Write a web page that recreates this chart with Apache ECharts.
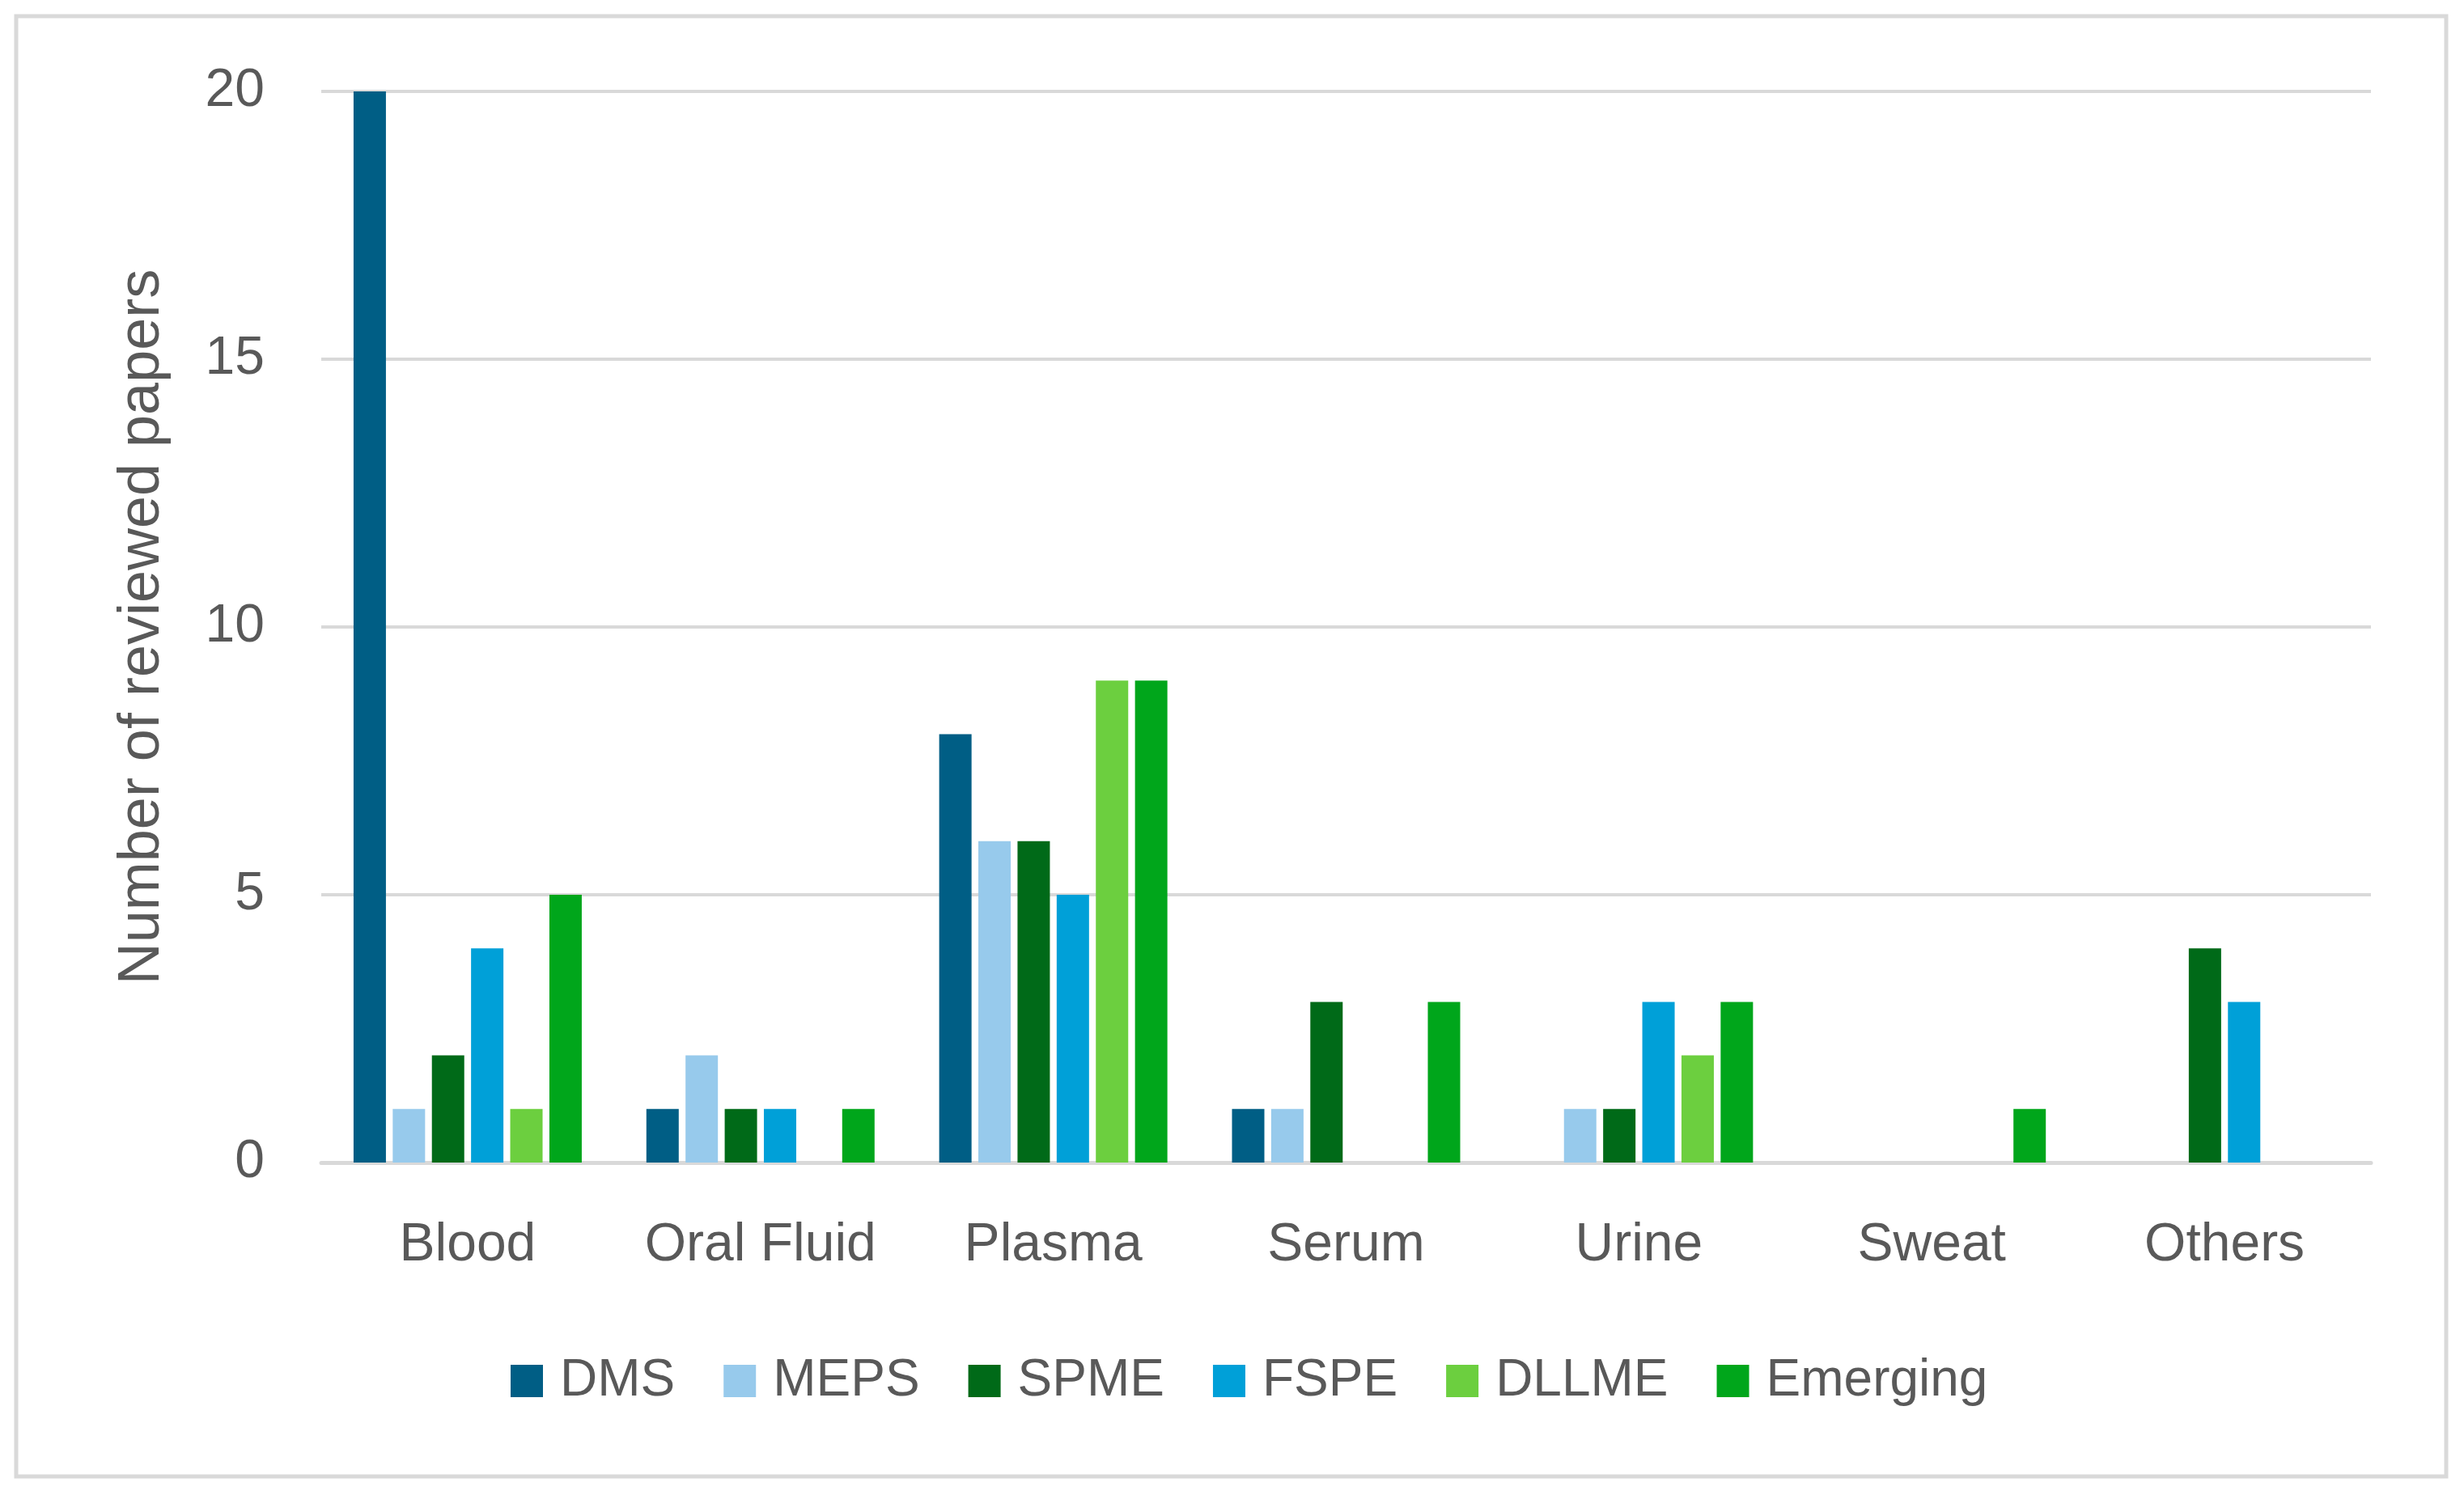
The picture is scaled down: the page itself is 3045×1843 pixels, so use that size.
<!DOCTYPE html>
<html>
<head>
<meta charset="utf-8">
<script src="https://cdn.jsdelivr.net/npm/echarts@6/dist/echarts.min.js"></script>
<style>
html,body{margin:0;padding:0;background:#fff;}
#chart{width:3045px;height:1843px;}
</style>
</head>
<body>
<div id="chart"></div>
<script>
const categories = ['Blood', 'Oral Fluid', 'Plasma', 'Serum', 'Urine', 'Sweat', 'Others'];
const seriesNames = ['DMS', 'MEPS', 'SPME', 'FSPE', 'DLLME', 'Emerging'];
const DMS      = [20, 1, 8, 1, 0, 0, 0];
const MEPS     = [1, 2, 6, 1, 1, 0, 0];
const SPME     = [2, 1, 6, 3, 1, 0, 4];
const FSPE     = [4, 1, 5, 0, 3, 0, 3];
const DLLME    = [1, 0, 9, 0, 2, 0, 0];
const Emerging = [5, 1, 9, 3, 3, 1, 0];
const yTicks = { min: 0, max: 20, interval: 5 };

const colors = ['#005E85', '#97CAEC', '#006A18', '#00A0D8', '#6CCF3F', '#00A61B'];
const values = [DMS, MEPS, SPME, FSPE, DLLME, Emerging];
const font = '"Liberation Sans", Arial, sans-serif';
const textColor = '#595959';

const chart = echarts.init(document.getElementById('chart'));
chart.setOption({
  animation: false,
  backgroundColor: '#ffffff',
  color: colors,
  graphic: [{
    type: 'rect',
    shape: { x: 20, y: 20, width: 3003, height: 1805 },
    style: { fill: 'none', stroke: '#d9d9d9', lineWidth: 5 },
    silent: true,
    z: -1
  }],
  grid: { left: 397, right: 115, top: 113, bottom: 406, containLabel: false },
  legend: {
    data: seriesNames,
    left: 626,
    top: 1670,
    icon: 'rect',
    itemWidth: 40,
    itemHeight: 40,
    itemGap: 60,
    textStyle: { fontFamily: font, fontSize: 64, color: textColor, padding: [0, 0, 0, 16] }
  },
  xAxis: {
    type: 'category',
    data: categories,
    axisLine: { show: true, lineStyle: { color: '#d9d9d9', width: 5 } },
    axisTick: { show: false },
    axisLabel: { interval: 0, fontFamily: font, fontSize: 66, color: textColor, margin: 70 }
  },
  yAxis: {
    type: 'value',
    min: yTicks.min,
    max: yTicks.max,
    interval: yTicks.interval,
    name: 'Number of reviewed papers',
    nameLocation: 'middle',
    nameGap: 185,
    nameTextStyle: { fontFamily: font, fontSize: 72, color: textColor },
    axisLine: { show: false },
    axisTick: { show: false },
    splitLine: { lineStyle: { color: '#d9d9d9', width: 4 } },
    axisLabel: { fontFamily: font, fontSize: 66, color: textColor, margin: 70 }
  },
  series: seriesNames.map((n, i) => ({
    name: n,
    type: 'bar',
    data: values[i],
    barWidth: 40,
    barGap: '21%',
    itemStyle: { color: colors[i] }
  }))
});
</script>
</body>
</html>
